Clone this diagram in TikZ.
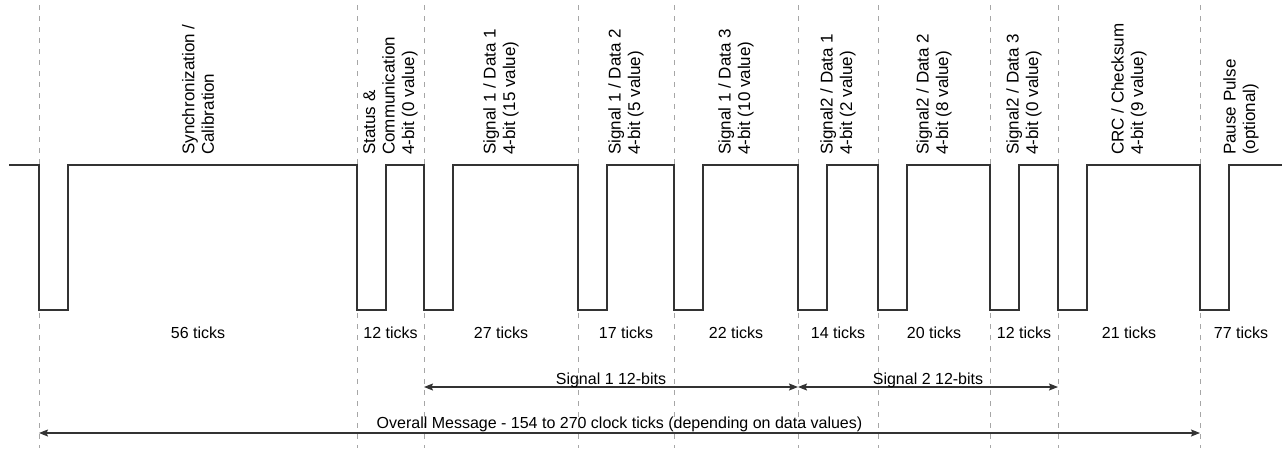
\documentclass[tikz,border=0pt]{standalone}
\usepackage{fontspec}
\setmainfont{Liberation Sans}
\usetikzlibrary{arrows.meta}

\begin{document}
\begin{tikzpicture}[
    x=1pt, y=-1pt,
    wave/.style={draw=black!80, line width=1.2pt, line join=miter},
    guide/.style={draw=black!35, line width=0.9pt, dash pattern=on 5pt off 6pt},
    % ── rotated frame headings ──
    seglabel/.style={rotate=90, anchor=west, align=left, inner sep=0pt,
                     font=\fontsize{17}{19.5}\selectfont},
    ticklabel/.style={anchor=base, inner sep=0pt, font=\fontsize{16}{18}\selectfont},
    spanlabel/.style={anchor=base, inner sep=0pt, font=\fontsize{16}{18}\selectfont},
    span/.style={{Stealth[length=9pt, width=7pt, inset=1.5pt]}-{Stealth[length=9pt, width=7pt, inset=1.5pt]},
                 draw=black!80, line width=1.1pt},
]

\useasboundingbox (0,0) rectangle (1282,448);

\def\hi{165}
\def\lo{310}

% ══════════════════════════════════════
% Frame boundaries
% ══════════════════════════════════════
\coordinate (b0) at (39,5);
\coordinate (b1) at (357,5);
\coordinate (b2) at (424,5);
\coordinate (b3) at (578,5);
\coordinate (b4) at (674,5);
\coordinate (b5) at (798,5);
\coordinate (b6) at (878,5);
\coordinate (b7) at (990,5);
\coordinate (b8) at (1058,5);
\coordinate (b9) at (1200,5);
\coordinate (bot) at (0,448);

\draw[guide] (b0) -- (b0 |- bot);
\draw[guide] (b1) -- (b1 |- bot);
\draw[guide] (b2) -- (b2 |- bot);
\draw[guide] (b3) -- (b3 |- bot);
\draw[guide] (b4) -- (b4 |- bot);
\draw[guide] (b5) -- (b5 |- bot);
\draw[guide] (b6) -- (b6 |- bot);
\draw[guide] (b7) -- (b7 |- bot);
\draw[guide] (b8) -- (b8 |- bot);
\draw[guide] (b9) -- (b9 |- bot);

% ══════════════════════════════════════
% Pulse train
% ══════════════════════════════════════
\draw[wave] (9,\hi) -- (39,\hi) -- (39,\lo) -- (68,\lo) -- (68,\hi)
    -- (357,\hi) -- (357,\lo) -- (386,\lo) -- (386,\hi)
    -- (424,\hi) -- (424,\lo) -- (453,\lo) -- (453,\hi)
    -- (578,\hi) -- (578,\lo) -- (607,\lo) -- (607,\hi)
    -- (674,\hi) -- (674,\lo) -- (703,\lo) -- (703,\hi)
    -- (798,\hi) -- (798,\lo) -- (827,\lo) -- (827,\hi)
    -- (878,\hi) -- (878,\lo) -- (907,\lo) -- (907,\hi)
    -- (990,\hi) -- (990,\lo) -- (1019,\lo) -- (1019,\hi)
    -- (1058,\hi) -- (1058,\lo) -- (1087,\lo) -- (1087,\hi)
    -- (1200,\hi) -- (1200,\lo) -- (1229,\lo) -- (1229,\hi)
    -- (1282,\hi);

% ══════════════════════════════════════
% Frame names
% ══════════════════════════════════════
\node[seglabel] (lsync) at (198,155) {Synchronization /\\Calibration};
\node[seglabel] (lstat) at (390.5,155) {Status \&\\Communication\\4-bit (0 value)};
\node[seglabel] (lsa1) at (501,155) {Signal 1 / Data 1\\4-bit (15 value)};
\node[seglabel] (lsa2) at (626,155) {Signal 1 / Data 2\\4-bit (5 value)};
\node[seglabel] (lsa3) at (736,155) {Signal 1 / Data 3\\4-bit (10 value)};
\node[seglabel] (lsb1) at (838,155) {Signal2 / Data 1\\4-bit (2 value)};
\node[seglabel] (lsb2) at (934,155) {Signal2 / Data 2\\4-bit (8 value)};
\node[seglabel] (lsb3) at (1024,155) {Signal2 / Data 3\\4-bit (0 value)};
\node[seglabel] (lcrc) at (1129,155) {CRC / Checksum\\4-bit (9 value)};
\node[seglabel] (lpause) at (1241,155) {Pause Pulse\\(optional)};

% ══════════════════════════════════════
% Tick counts
% ══════════════════════════════════════
\node[ticklabel] (tsync) at (198,338.5) {56 ticks};
\node[ticklabel] (tstat) at (390.5,338.5) {12 ticks};
\node[ticklabel] (tsa1) at (501,338.5) {27 ticks};
\node[ticklabel] (tsa2) at (626,338.5) {17 ticks};
\node[ticklabel] (tsa3) at (736,338.5) {22 ticks};
\node[ticklabel] (tsb1) at (838,338.5) {14 ticks};
\node[ticklabel] (tsb2) at (934,338.5) {20 ticks};
\node[ticklabel] (tsb3) at (1024,338.5) {12 ticks};
\node[ticklabel] (tcrc) at (1129,338.5) {21 ticks};
\node[ticklabel] (tpause) at (1241,338.5) {77 ticks};

% ══════════════════════════════════════
% Spans
% ══════════════════════════════════════
\coordinate (sig) at (0,387);
\coordinate (all) at (0,433);

\draw[span] (b2 |- sig) -- (b5 |- sig);
\node[spanlabel] (lsig1) at (611,384) {Signal 1 12-bits};

\draw[span] (b5 |- sig) -- (b8 |- sig);
\node[spanlabel] (lsig2) at (928,384) {Signal 2 12-bits};

\draw[span] (b0 |- all) -- (b9 |- all);
\node[spanlabel] (lall) at (619.5,428.5) {Overall Message - 154 to 270 clock ticks (depending on data values)};

\end{tikzpicture}
\end{document}
